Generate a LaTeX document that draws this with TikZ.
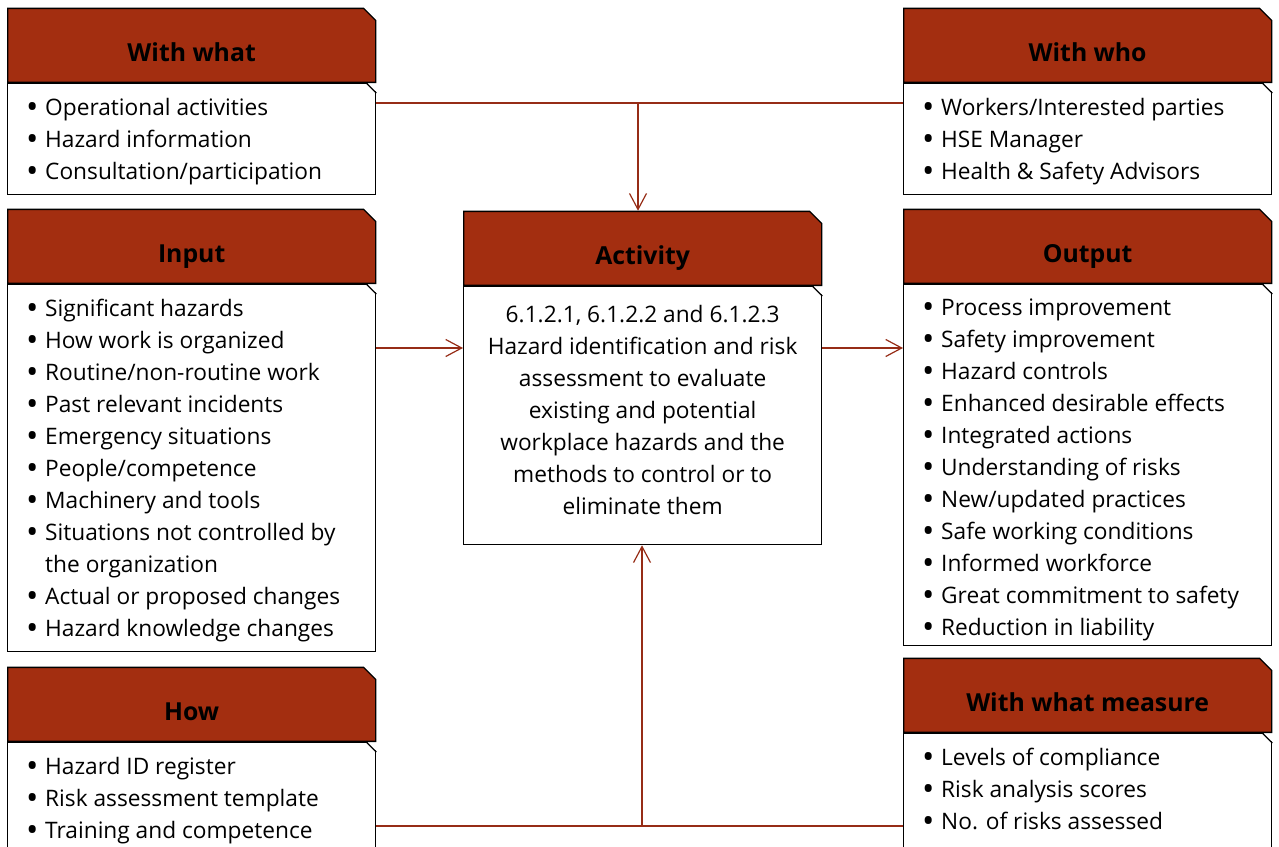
\documentclass[tikz,border=0pt]{standalone}
\usepackage{fontspec}
\usepackage{graphicx}
\setmainfont{Open Sans}
\usetikzlibrary{arrows.meta, shapes.misc, positioning}

\definecolor{Rust}{RGB}{163,46,16}
\definecolor{RustLine}{RGB}{150,44,22}

\newcommand{\itm}{\makebox[19pt][l]{\raisebox{-0.13em}{\scalebox{1.45}{\textbullet}}}}
\newcommand{\cnt}{\hspace*{19pt}}

\begin{document}
\begin{tikzpicture}[x=1pt, y=-1pt,
  head/.style={chamfered rectangle, chamfered rectangle corners=north east,
    chamfered rectangle xsep=6pt, chamfered rectangle ysep=6pt,
    draw=black, line width=1.3pt, fill=Rust, inner sep=0pt, anchor=south west,
    minimum width=368pt, minimum height=74pt,
    font=\fontsize{24.8}{28}\selectfont\bfseries, text height=32pt, text depth=0pt},
  card/.style={rectangle, draw=black, line width=1.3pt, fill=white, inner sep=0pt,
    anchor=north west, minimum width=368pt},
  list/.style={anchor=north west, inner sep=0pt, align=left,
    font=\fontsize{22.7}{32}\selectfont},
  link/.style={draw=RustLine, line width=1.2pt},
  tip/.style={-{Straight Barb[length=16pt, width=17pt]}}]

\useasboundingbox (0,0) rectangle (1279,846);

% bodies
\node[card, minimum height=111pt] (wwhatB) at (7,83) {};
\node[card, minimum height=367pt] (inputB) at (7,284) {};
\node[card, minimum height=140pt] (howB) at (7,742) {};
\node[card, minimum width=358pt, minimum height=258pt] (activityB) at (463,286) {};
\node[card, minimum height=111pt] (wwhoB) at (903,83) {};
\node[card, minimum height=361pt] (outputB) at (903,284) {};
\node[card, minimum height=150pt] (measureB) at (903,733) {};

\foreach \b in {wwhatB, inputB, howB, activityB, wwhoB, outputB, measureB}
{
\fill [white] ([xshift=-10pt, yshift=1pt]\b.north east) -- ([xshift=1pt, yshift=1pt]\b.north east)
  -- ([xshift=1pt, yshift=-10pt]\b.north east) -- cycle;
\draw [line width=1.3pt] ([xshift=-10pt]\b.north east) -- ([yshift=-10pt]\b.north east);
}

% headers
\node[head] (wwhat) at (wwhatB.north west) {With what};
\node[head] (input) at (inputB.north west) {Input};
\node[head] (how) at (howB.north west) {How};
\node[head, minimum width=358pt] (activity) at (activityB.north west) {Activity};
\node[head] (wwho) at (wwhoB.north west) {With who};
\node[head] (output) at (outputB.north west) {Output};
\node[head] (measure) at (measureB.north west) {With what measure};

% texts
\node[list] (wwhatT) at ([xshift=19pt, yshift=-15pt]wwhatB.north west)
  {\itm Operational activities\\ \itm Hazard information\\ \itm Consultation/participation};
\node[list] (inputT) at ([xshift=19pt, yshift=-15pt]inputB.north west)
  {\itm Significant hazards\\ \itm How work is organized\\ \itm Routine/non-routine work\\
   \itm Past relevant incidents\\ \itm Emergency situations\\ \itm People/competence\\
   \itm Machinery and tools\\ \itm Situations not controlled by\\ \cnt the organization\\
   \itm Actual or proposed changes\\ \itm Hazard knowledge changes};
\node[list] (howT) at ([xshift=19pt, yshift=-15pt]howB.north west)
  {\itm Hazard ID register\\ \itm Risk assessment template\\ \itm Training and competence};
\node[list, anchor=north, align=center] (activityT) at ([yshift=-19pt]activityB.north)
  {6.1.2.1, 6.1.2.2 and 6.1.2.3\\ Hazard identification and risk\\ assessment to evaluate\\
   existing and potential\\ workplace hazards and the\\ methods to control or to\\ eliminate them};
\node[list] (wwhoT) at ([xshift=19pt, yshift=-15pt]wwhoB.north west)
  {\itm Workers/Interested parties\\ \itm HSE Manager\\ \itm Health \& Safety Advisors};
\node[list] (outputT) at ([xshift=19pt, yshift=-15pt]outputB.north west)
  {\itm Process improvement\\ \itm Safety improvement\\ \itm Hazard controls\\
   \itm Enhanced desirable effects\\ \itm Integrated actions\\ \itm Understanding of risks\\
   \itm New/updated practices\\ \itm Safe working conditions\\ \itm Informed workforce\\
   \itm Great commitment to safety\\ \itm Reduction in liability};
\node[list] (measureT) at ([xshift=19pt, yshift=-15pt]measureB.north west)
  {\itm Levels of compliance\\ \itm Risk analysis scores\\ \itm No. of risks assessed};

% connectors
\coordinate (topJ) at (638,103);
\coordinate (botJ) at (642,826);
\coordinate (midY) at (0,348);
\draw[link] (wwhatB.east |- topJ) -- (wwhoB.west |- topJ);
\draw[link, tip] (topJ) -- (activity.north -| topJ);
\draw[link, tip] (inputB.east |- midY) -- (activityB.west |- midY);
\draw[link, tip] (activityB.east |- midY) -- (outputB.west |- midY);
\draw[link] (howB.east |- botJ) -- (measureB.west |- botJ);
\draw[link, tip] (botJ) -- (activityB.south -| botJ);
\end{tikzpicture}
\end{document}
